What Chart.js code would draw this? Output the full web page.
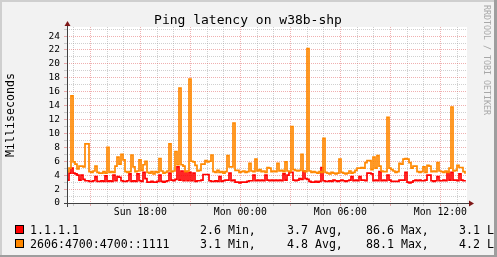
<!DOCTYPE html>
<html>
<head>
<meta charset="utf-8">
<script src="https://cdn.jsdelivr.net/npm/chart.js@4/dist/chart.umd.min.js"></script>
<style>
  html, body { margin: 0; padding: 0; background: #f2f2f2; }
  canvas { display: block; }
</style>
</head>
<body>
<canvas id="pingChart" width="497" height="257"></canvas>
<script>
// time axis in hours since Sun 00:00, one sample every 7.2 minutes
const startHour = 13.6;
const endHour = 37.6;
const stepHours = 0.12;

const pingV4 = [
  3.3, 4.3, 5.0, 4.3, 4.2, 4.0, 3.3, 4.0, 3.4, 3.2,
  3.2, 3.1, 3.1, 3.2, 3.8, 3.1, 3.1, 3.2, 3.1, 3.9,
  3.1, 3.2, 3.1, 4.0, 3.2, 3.8, 3.7, 3.2, 3.1, 3.1,
  3.2, 4.2, 3.1, 3.2, 3.1, 4.2, 3.2, 3.1, 4.4, 3.5,
  3.0, 3.0, 3.1, 3.0, 3.0, 3.1, 4.0, 3.1, 3.0, 3.1,
  3.2, 4.3, 3.3, 3.2, 3.4, 5.2, 3.3, 4.6, 3.2, 4.5,
  3.2, 4.4, 3.2, 4.3, 3.1, 3.2, 3.2, 3.3, 4.1, 4.1,
  4.1, 3.2, 3.1, 3.1, 3.2, 3.1, 3.8, 3.1, 3.2, 3.3,
  3.3, 4.3, 3.2, 3.3, 3.0, 3.0, 2.9, 3.0, 3.0, 3.0,
  3.1, 3.2, 3.2, 4.0, 3.2, 3.3, 3.2, 3.3, 3.2, 4.0,
  3.3, 3.2, 3.3, 3.2, 3.3, 3.2, 3.3, 3.2, 4.2, 3.3,
  4.0, 4.4, 4.4, 3.3, 3.2, 3.3, 3.5, 3.4, 4.6, 3.5,
  3.4, 3.1, 3.0, 3.0, 3.1, 3.0, 3.1, 5.1, 3.2, 3.1,
  3.1, 3.2, 3.1, 3.3, 3.2, 3.1, 3.2, 3.3, 3.2, 3.1,
  3.2, 3.3, 3.8, 3.2, 3.3, 3.2, 3.8, 3.3, 3.3, 3.2,
  4.3, 4.3, 4.2, 3.2, 3.3, 3.2, 4.5, 3.2, 3.3, 3.2,
  4.0, 3.3, 3.1, 3.1, 3.1, 3.1, 3.3, 3.3, 3.3, 4.4,
  3.0, 2.9, 3.0, 3.2, 3.3, 3.2, 3.3, 3.2, 3.2, 3.3,
  4.0, 4.0, 3.2, 3.1, 3.2, 3.8, 3.2, 3.2, 3.3, 3.2,
  4.4, 3.3, 4.4, 3.3, 3.3, 3.2, 4.2, 3.3, 3.2, 3.1,
];

const pingV6 = [
  4.5, 5.0, 15.4, 5.9, 5.6, 4.9, 5.3, 5.3, 5.2, 8.5,
  8.5, 4.5, 4.4, 4.6, 5.3, 4.4, 4.3, 4.3, 4.5, 4.3,
  8.0, 4.4, 4.5, 4.4, 5.3, 6.6, 5.6, 7.0, 6.2, 4.5,
  4.4, 4.5, 6.9, 5.2, 4.5, 4.6, 6.2, 4.7, 5.5, 6.0,
  4.4, 4.3, 4.5, 4.2, 4.5, 4.4, 6.4, 4.6, 4.3, 4.4,
  4.6, 8.5, 4.5, 4.6, 7.4, 5.5, 16.5, 5.5, 5.3, 4.5,
  4.6, 17.8, 6.0, 5.9, 5.4, 4.6, 4.7, 5.6, 5.6, 6.1,
  5.9, 6.0, 6.9, 4.5, 4.4, 4.7, 4.4, 4.5, 4.3, 4.5,
  6.8, 5.2, 5.2, 11.5, 4.7, 4.7, 4.4, 4.5, 4.6, 4.4,
  4.5, 5.7, 4.6, 4.5, 6.3, 4.6, 4.8, 4.5, 4.6, 4.4,
  5.1, 5.0, 4.5, 4.6, 4.5, 5.7, 4.6, 4.7, 4.5, 5.9,
  4.6, 4.5, 11.0, 4.8, 4.7, 4.6, 4.7, 7.0, 4.6, 4.5,
  22.2, 4.6, 4.4, 4.5, 4.4, 4.3, 4.5, 4.4, 9.3, 4.4,
  4.3, 4.2, 4.4, 4.3, 4.2, 4.3, 6.3, 4.4, 4.3, 4.2,
  4.3, 4.6, 4.3, 4.4, 4.7, 5.0, 5.0, 5.1, 5.0, 5.8,
  6.1, 6.1, 4.8, 6.6, 5.0, 6.8, 5.3, 4.6, 4.5, 4.5,
  12.3, 5.0, 4.8, 4.6, 4.4, 4.5, 5.7, 5.6, 6.3, 6.4,
  6.3, 5.8, 5.0, 5.3, 5.3, 4.5, 4.4, 4.5, 5.2, 4.4,
  5.4, 5.3, 4.5, 4.6, 4.5, 5.8, 4.6, 4.5, 4.4, 4.6,
  4.4, 5.0, 13.8, 4.6, 4.7, 5.4, 5.1, 5.1, 4.5, 4.2,
];

const xGridHours = [14, 15, 16, 17, 18, 19, 20, 21, 22, 23, 24, 25,
  26, 27, 28, 29, 30, 31, 32, 33, 34, 35, 36, 37];
const xTickHours = [18, 24, 30, 36];
const xTickLabels = ["Sun 18:00", "Mon 00:00", "Mon 06:00", "Mon 12:00"];

const yGridValues = [0, 1, 2, 3, 4, 5, 6, 7, 8, 9, 10, 11, 12, 13, 14, 15,
  16, 17, 18, 19, 20, 21, 22, 23, 24, 25];
const yTickLabels = [0, 2, 4, 6, 8, 10, 12, 14, 16, 18, 20, 22, 24];
const yMax = 25.3;

const seriesNames = ["1.1.1.1", "2606:4700:4700::1111"];
const seriesColors = ["#ff0000", "#ff8800"];
const seriesMin = ["2.6", "3.1"];
const seriesAvg = ["3.7", "4.8"];
const seriesMax = ["86.6", "88.1"];
const seriesLast = ["3.1", "4.2"];

const MONO = "'DejaVu Sans Mono', monospace";
const MINOR_GRID = "rgba(150, 150, 150, 0.45)";
const MAJOR_GRID = "rgba(222, 80, 80, 0.45)";

function toPoints(values) {
  return values.map((value, i) => ({ x: startHour + i * stepHours, y: value }));
}

function xGridColor(ctx) {
  const v = ctx.tick.value;
  return v % 3 === 0 ? MAJOR_GRID : MINOR_GRID;
}

function yGridColor(ctx) {
  const v = ctx.tick.value;
  if (v === 0) return "rgba(0,0,0,0)";
  return v % 2 === 0 ? MAJOR_GRID : MINOR_GRID;
}

const frameDecor = {
  id: "frameDecor",
  beforeDraw(chart) {
    const { ctx, chartArea: a } = chart;
    ctx.save();
    ctx.fillStyle = "#f2f2f2";
    ctx.fillRect(0, 0, chart.width, chart.height);
    ctx.fillStyle = "#ffffff";
    ctx.fillRect(a.left, a.top, a.right - a.left, a.bottom - a.top);
    ctx.restore();
  },
  afterDraw(chart) {
    const { ctx, chartArea: a } = chart;
    ctx.save();

    // axes + arrows
    const x0 = Math.round(a.left);
    const y0 = Math.round(a.bottom);
    ctx.fillStyle = "#404040";
    ctx.fillRect(x0, a.top - 2, 1, y0 - a.top + 6);
    ctx.fillRect(x0 - 3, y0, a.right - x0 + 9, 1);
    ctx.fillStyle = "#7f1818";
    ctx.beginPath();
    ctx.moveTo(x0 - 2.5, a.top - 1);
    ctx.lineTo(x0 + 3.5, a.top - 1);
    ctx.lineTo(x0 + 0.5, a.top - 6);
    ctx.closePath();
    ctx.fill();
    ctx.beginPath();
    ctx.moveTo(a.right + 2, y0 - 2.5);
    ctx.lineTo(a.right + 2, y0 + 3.5);
    ctx.lineTo(a.right + 7, y0 + 0.5);
    ctx.closePath();
    ctx.fill();

    // title
    ctx.fillStyle = "#000";
    ctx.font = "13px " + MONO;
    ctx.textAlign = "center";
    ctx.textBaseline = "alphabetic";
    ctx.fillText("Ping latency on w38b-shp", 248, 24);

    // vertical label
    ctx.save();
    ctx.translate(10.5, 115);
    ctx.rotate(-Math.PI / 2);
    ctx.font = "11.6px " + MONO;
    ctx.textBaseline = "middle";
    ctx.fillText("Milliseconds", 0, 0);
    ctx.restore();

    // watermark
    ctx.save();
    ctx.translate(486, 5);
    ctx.rotate(Math.PI / 2);
    ctx.font = "8.3px " + MONO;
    ctx.fillStyle = "#a8a8a8";
    ctx.textAlign = "left";
    ctx.textBaseline = "middle";
    ctx.fillText("RRDTOOL / TOBI OETIKER", 0, 0);
    ctx.restore();

    // legend
    ctx.font = "11.6px " + MONO;
    ctx.textAlign = "left";
    ctx.textBaseline = "alphabetic";
    seriesNames.forEach((name, i) => {
      const baseline = 233.5 + i * 14;
      ctx.fillStyle = seriesColors[i];
      ctx.fillRect(15.5, baseline - 8, 8, 8);
      ctx.strokeStyle = "#000";
      ctx.lineWidth = 1;
      ctx.strokeRect(15.5, baseline - 8, 8, 8);
      ctx.fillStyle = "#000";
      ctx.fillText(name, 30, baseline);
      ctx.fillText(seriesMin[i] + " Min,", 200, baseline);
      ctx.fillText(seriesAvg[i] + " Avg,", 287, baseline);
      ctx.fillText(seriesMax[i] + " Max,", 366, baseline);
      ctx.fillText(seriesLast[i] + " Last", 459, baseline);
    });

    // 3d frame
    ctx.fillStyle = "#cfcfcf";
    ctx.fillRect(0, 0, chart.width, 2);
    ctx.fillRect(0, 0, 2, chart.height);
    ctx.fillStyle = "#9e9e9e";
    ctx.fillRect(0, chart.height - 2, chart.width, 2);
    ctx.fillRect(chart.width - 3, 0, 3, chart.height);
    ctx.restore();
  },
};

new Chart(document.getElementById("pingChart"), {
  type: "line",
  data: {
    datasets: [
      {
        label: seriesNames[1],
        data: toPoints(pingV6),
        borderColor: seriesColors[1],
        borderWidth: 1.7,
        stepped: true,
        pointRadius: 0,
        fill: false,
        order: 1,
      },
      {
        label: seriesNames[0],
        data: toPoints(pingV4),
        borderColor: seriesColors[0],
        borderWidth: 1.7,
        stepped: true,
        pointRadius: 0,
        fill: false,
        order: 2,
      },
    ],
  },
  options: {
    responsive: false,
    animation: false,
    devicePixelRatio: 1,
    layout: { padding: { left: 0, right: 30, top: 27, bottom: 0 } },
    plugins: {
      legend: { display: false },
      title: { display: false },
      tooltip: { enabled: false },
    },
    scales: {
      x: {
        type: "linear",
        min: startHour,
        max: endHour,
        afterBuildTicks: (scale) => {
          scale.ticks = xGridHours.map((v) => ({ value: v }));
        },
        afterFit: (scale) => { scale.height = 54; },
        grid: {
          color: xGridColor,
          tickColor: xGridColor,
          tickLength: 3,
          lineWidth: 1,
        },
        border: { display: false, dash: [1, 1] },
        ticks: {
          autoSkip: false,
          maxRotation: 0,
          padding: 1,
          color: "#000",
          font: { family: MONO, size: 9.8 },
          callback: (value) => {
            const idx = xTickHours.indexOf(value);
            return idx >= 0 ? xTickLabels[idx] : "";
          },
        },
      },
      y: {
        min: 0,
        max: yMax,
        afterBuildTicks: (scale) => {
          scale.ticks = yGridValues.map((v) => ({ value: v }));
        },
        afterFit: (scale) => { scale.width = 67; },
        grid: {
          color: yGridColor,
          tickColor: yGridColor,
          tickLength: 3,
          lineWidth: 1,
        },
        border: { display: false, dash: [1, 1] },
        ticks: {
          autoSkip: false,
          padding: 4,
          color: "#000",
          font: { family: MONO, size: 9.5 },
          callback: (value) => (yTickLabels.includes(value) ? String(value) : ""),
        },
      },
    },
  },
  plugins: [frameDecor],
});
</script>
</body>
</html>
